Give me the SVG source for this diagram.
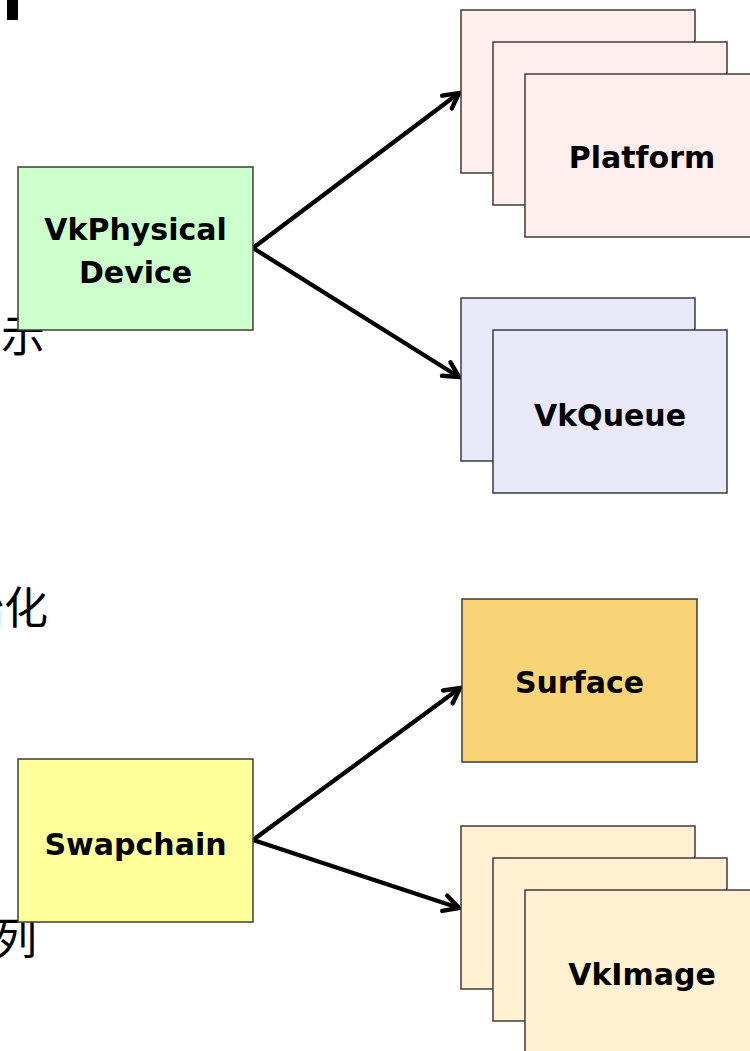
<svg xmlns="http://www.w3.org/2000/svg" width="750" height="1051" viewBox="0 0 750 1051">
<style>
.box{stroke:#3c3c3c;stroke-width:1.5}
.lbl{font-family:"DejaVu Sans",sans-serif;font-weight:bold;font-size:30px;fill:#000;text-anchor:middle}
.cjk{font-family:"Noto Sans CJK SC","Noto Sans CJK JP",sans-serif;font-size:44px;fill:#000;text-anchor:end}
.con{stroke:#000;stroke-width:4.3;fill:none}
.g{fill:#CCFFCC}.p{fill:#FFEEEE}.q{fill:#E8E8F8}.s{fill:#F9D476}.w{fill:#FFFF99}.i{fill:#FEF0D0}
</style>
<defs>
<marker id="ah" markerUnits="userSpaceOnUse" markerWidth="30" markerHeight="30" viewBox="-20 -15 30 30" refX="0" refY="0" orient="auto">
<path d="M -15 -8 L 0 0 L -15 8" fill="none" stroke="#000" stroke-width="4.5" stroke-linecap="round" stroke-linejoin="miter"/>
</marker>
</defs>
<rect x="7" y="0" width="11" height="20" fill="#000"/>
<text class="cjk" x="45" y="352">显示</text>
<text class="cjk" x="48" y="624">初始化</text>
<text class="cjk" x="37" y="955">队列</text>
<g id="connectors">
<path class="con" d="M253 248 L459 93" marker-end="url(#ah)"/>
<path class="con" d="M253 248 L459 377" marker-end="url(#ah)"/>
<path class="con" d="M253 840 L460 688" marker-end="url(#ah)"/>
<path class="con" d="M253 840 L459 908" marker-end="url(#ah)"/>
</g>
<g id="physicaldevice">
<rect class="box g" x="18" y="167" width="235" height="163"/>
<text class="lbl" x="135.5" y="240">VkPhysical</text>
<text class="lbl" x="135.5" y="283">Device</text>
</g>
<g id="platform">
<rect class="box p" x="461" y="10" width="234" height="163"/>
<rect class="box p" x="493" y="42" width="234" height="163"/>
<rect class="box p" x="525" y="74" width="234" height="163"/>
<text class="lbl" x="642" y="168">Platform</text>
</g>
<g id="vkqueue">
<rect class="box q" x="461" y="298" width="234" height="163"/>
<rect class="box q" x="493" y="330" width="234" height="163"/>
<text class="lbl" x="610" y="426">VkQueue</text>
</g>
<g id="surface">
<rect class="box s" x="462" y="599" width="235" height="163"/>
<text class="lbl" x="579.5" y="693">Surface</text>
</g>
<g id="swapchain">
<rect class="box w" x="18" y="759" width="235" height="163"/>
<text class="lbl" x="135.5" y="855">Swapchain</text>
</g>
<g id="vkimage">
<rect class="box i" x="461" y="826" width="234" height="163"/>
<rect class="box i" x="493" y="858" width="234" height="163"/>
<rect class="box i" x="525" y="890" width="234" height="163"/>
<text class="lbl" x="642" y="985">VkImage</text>
</g>
</svg>
